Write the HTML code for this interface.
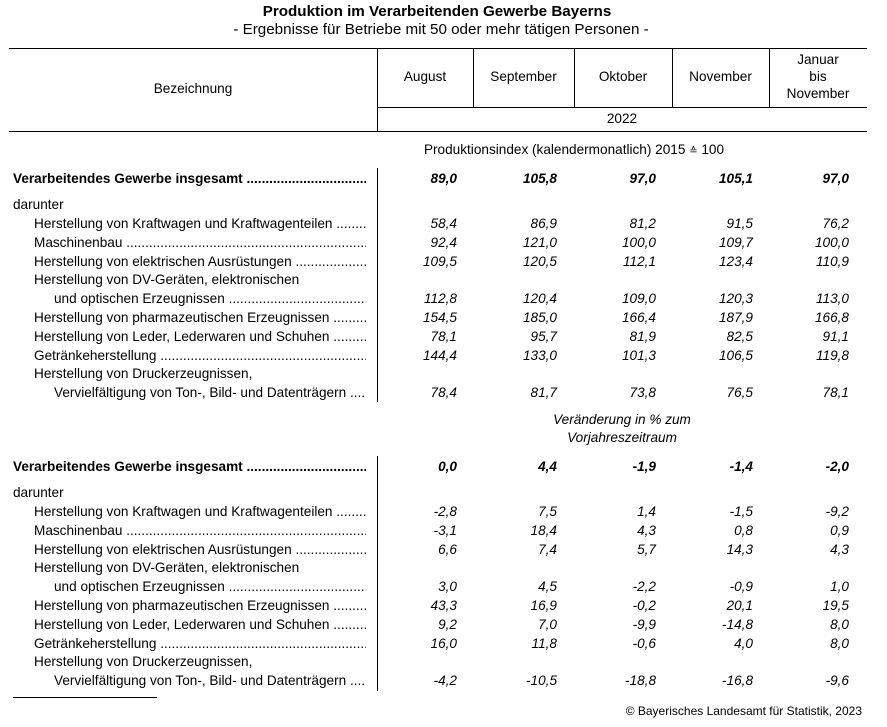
<!DOCTYPE html>
<html><head><meta charset="utf-8">
<style>
*{margin:0;padding:0;box-sizing:border-box;}
html,body{width:887px;height:727px;background:#fff;overflow:hidden;}
body{position:relative;font-family:"Liberation Sans",Arial,"DejaVu Sans",sans-serif;font-size:13.6px;color:#000;}
.a{position:absolute;white-space:nowrap;line-height:18px;height:18px;}
.hl{position:absolute;height:1px;background:#000;}
.vl{position:absolute;width:1px;background:#000;}
.r{position:absolute;left:0;width:887px;height:18px;line-height:18px;white-space:nowrap;}
.r div{position:absolute;top:0;height:18px;}
.l0{left:13px;width:353px;overflow:hidden;}
.l1{left:34px;width:332px;overflow:hidden;}
.l2{left:54px;width:312px;overflow:hidden;}
.c1,.c2,.c3,.c4,.c5{width:90px;text-align:right;font-style:italic;}
.c1{left:367px;}.c2{left:467px;}.c3{left:566px;}.c4{left:663px;}.c5{left:759px;}
.b{font-weight:bold;}
.ctr{text-align:center;}
.eq{font-size:10px;}
</style></head><body>

<div class="a ctr b" style="left:0;width:874px;top:3px;font-size:15.2px;">Produktion im Verarbeitenden Gewerbe Bayerns</div>
<div class="a ctr" style="left:0;width:882px;top:21px;font-size:15.2px;">- Ergebnisse für Betriebe mit 50 oder mehr tätigen Personen -</div>

<!-- header rules -->
<div class="hl" style="left:9px;width:858px;top:48px;"></div>
<div class="hl" style="left:377px;width:490px;top:107px;"></div>
<div class="hl" style="left:9px;width:858px;top:131px;"></div>
<div class="vl" style="left:377px;top:48px;height:84px;"></div>
<div class="vl" style="left:473px;top:48px;height:59px;"></div>
<div class="vl" style="left:574px;top:48px;height:59px;"></div>
<div class="vl" style="left:672px;top:48px;height:59px;"></div>
<div class="vl" style="left:769px;top:48px;height:59px;"></div>

<div class="a ctr" style="left:9px;width:368px;top:80px;">Bezeichnung</div>
<div class="a ctr" style="left:377px;width:96px;top:68px;">August</div>
<div class="a ctr" style="left:473px;width:101px;top:68px;">September</div>
<div class="a ctr" style="left:574px;width:98px;top:68px;">Oktober</div>
<div class="a ctr" style="left:672px;width:97px;top:68px;">November</div>
<div class="a ctr" style="left:769px;width:98px;top:51px;">Januar</div>
<div class="a ctr" style="left:769px;width:98px;top:68px;">bis</div>
<div class="a ctr" style="left:769px;width:98px;top:85px;">November</div>
<div class="a ctr" style="left:377px;width:490px;top:110px;">2022</div>

<!-- section 1 -->
<div class="a ctr" style="left:377px;width:394px;top:141px;">Produktionsindex (kalendermonatlich) 2015 <span class="eq">≙</span> 100</div>
<div class="vl" style="left:377px;top:168px;height:234px;"></div>

<div class="r b" style="top:170px;"><div class="l0">Verarbeitendes Gewerbe insgesamt ....................................................................................</div><div class="c1">89,0</div><div class="c2">105,8</div><div class="c3">97,0</div><div class="c4">105,1</div><div class="c5">97,0</div></div>
<div class="r" style="top:196px;"><div class="l0">darunter</div></div>
<div class="r" style="top:215px;"><div class="l1">Herstellung von Kraftwagen und Kraftwagenteilen ..........................................................</div><div class="c1">58,4</div><div class="c2">86,9</div><div class="c3">81,2</div><div class="c4">91,5</div><div class="c5">76,2</div></div>
<div class="r" style="top:234px;"><div class="l1">Maschinenbau ..............................................................................................................</div><div class="c1">92,4</div><div class="c2">121,0</div><div class="c3">100,0</div><div class="c4">109,7</div><div class="c5">100,0</div></div>
<div class="r" style="top:253px;"><div class="l1">Herstellung von elektrischen Ausrüstungen ......................................................................</div><div class="c1">109,5</div><div class="c2">120,5</div><div class="c3">112,1</div><div class="c4">123,4</div><div class="c5">110,9</div></div>
<div class="r" style="top:271px;"><div class="l1">Herstellung von DV-Geräten, elektronischen</div></div>
<div class="r" style="top:290px;"><div class="l2">und optischen Erzeugnissen .........................................................................................</div><div class="c1">112,8</div><div class="c2">120,4</div><div class="c3">109,0</div><div class="c4">120,3</div><div class="c5">113,0</div></div>
<div class="r" style="top:309px;"><div class="l1">Herstellung von pharmazeutischen Erzeugnissen .................................................................</div><div class="c1">154,5</div><div class="c2">185,0</div><div class="c3">166,4</div><div class="c4">187,9</div><div class="c5">166,8</div></div>
<div class="r" style="top:328px;"><div class="l1">Herstellung von Leder, Lederwaren und Schuhen .................................................................</div><div class="c1">78,1</div><div class="c2">95,7</div><div class="c3">81,9</div><div class="c4">82,5</div><div class="c5">91,1</div></div>
<div class="r" style="top:347px;"><div class="l1">Getränkeherstellung .........................................................................................................</div><div class="c1">144,4</div><div class="c2">133,0</div><div class="c3">101,3</div><div class="c4">106,5</div><div class="c5">119,8</div></div>
<div class="r" style="top:365px;"><div class="l1">Herstellung von Druckerzeugnissen,</div></div>
<div class="r" style="top:384px;"><div class="l2">Vervielfältigung von Ton-, Bild- und Datenträgern ...........................................................</div><div class="c1">78,4</div><div class="c2">81,7</div><div class="c3">73,8</div><div class="c4">76,5</div><div class="c5">78,1</div></div>

<!-- section 2 -->
<div class="a ctr" style="left:377px;width:490px;top:411px;font-style:italic;">Veränderung in % zum</div>
<div class="a ctr" style="left:377px;width:490px;top:429px;font-style:italic;">Vorjahreszeitraum</div>
<div class="vl" style="left:377px;top:456px;height:235px;"></div>

<div class="r b" style="top:458px;"><div class="l0">Verarbeitendes Gewerbe insgesamt ....................................................................................</div><div class="c1">0,0</div><div class="c2">4,4</div><div class="c3">-1,9</div><div class="c4">-1,4</div><div class="c5">-2,0</div></div>
<div class="r" style="top:484px;"><div class="l0">darunter</div></div>
<div class="r" style="top:503px;"><div class="l1">Herstellung von Kraftwagen und Kraftwagenteilen ..........................................................</div><div class="c1">-2,8</div><div class="c2">7,5</div><div class="c3">1,4</div><div class="c4">-1,5</div><div class="c5">-9,2</div></div>
<div class="r" style="top:522px;"><div class="l1">Maschinenbau ..............................................................................................................</div><div class="c1">-3,1</div><div class="c2">18,4</div><div class="c3">4,3</div><div class="c4">0,8</div><div class="c5">0,9</div></div>
<div class="r" style="top:541px;"><div class="l1">Herstellung von elektrischen Ausrüstungen ......................................................................</div><div class="c1">6,6</div><div class="c2">7,4</div><div class="c3">5,7</div><div class="c4">14,3</div><div class="c5">4,3</div></div>
<div class="r" style="top:559px;"><div class="l1">Herstellung von DV-Geräten, elektronischen</div></div>
<div class="r" style="top:578px;"><div class="l2">und optischen Erzeugnissen .........................................................................................</div><div class="c1">3,0</div><div class="c2">4,5</div><div class="c3">-2,2</div><div class="c4">-0,9</div><div class="c5">1,0</div></div>
<div class="r" style="top:597px;"><div class="l1">Herstellung von pharmazeutischen Erzeugnissen .................................................................</div><div class="c1">43,3</div><div class="c2">16,9</div><div class="c3">-0,2</div><div class="c4">20,1</div><div class="c5">19,5</div></div>
<div class="r" style="top:616px;"><div class="l1">Herstellung von Leder, Lederwaren und Schuhen .................................................................</div><div class="c1">9,2</div><div class="c2">7,0</div><div class="c3">-9,9</div><div class="c4">-14,8</div><div class="c5">8,0</div></div>
<div class="r" style="top:635px;"><div class="l1">Getränkeherstellung .........................................................................................................</div><div class="c1">16,0</div><div class="c2">11,8</div><div class="c3">-0,6</div><div class="c4">4,0</div><div class="c5">8,0</div></div>
<div class="r" style="top:653px;"><div class="l1">Herstellung von Druckerzeugnissen,</div></div>
<div class="r" style="top:672px;"><div class="l2">Vervielfältigung von Ton-, Bild- und Datenträgern ...........................................................</div><div class="c1">-4,2</div><div class="c2">-10,5</div><div class="c3">-18,8</div><div class="c4">-16,8</div><div class="c5">-9,6</div></div>

<div class="hl" style="left:13px;width:144px;top:697px;"></div>
<div class="a" style="right:25px;top:703px;font-size:12px;line-height:16px;height:16px;">© Bayerisches Landesamt für Statistik, 2023</div>

</body></html>
